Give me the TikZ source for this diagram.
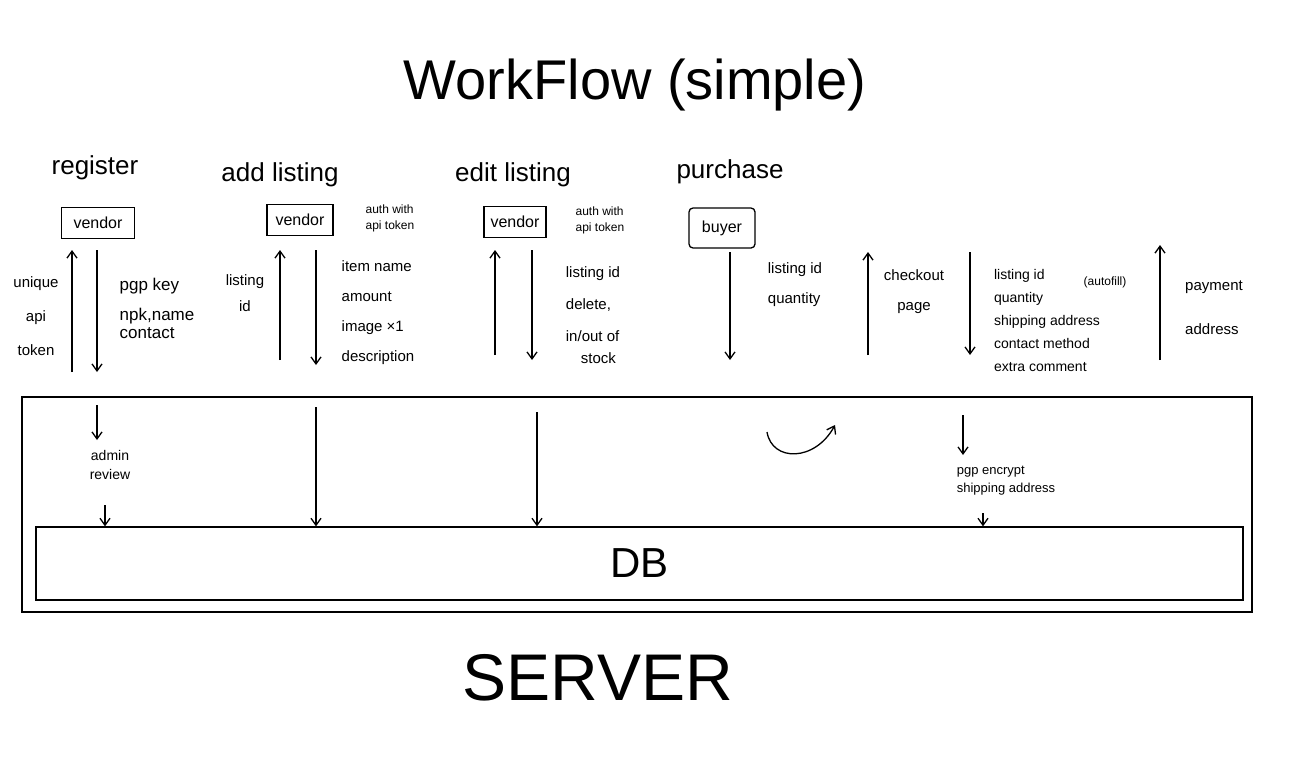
\documentclass[tikz,border=0pt]{standalone}
\usepackage{fontspec}
\setmainfont{Liberation Sans}
\usetikzlibrary{arrows.meta}
\begin{document}
\begin{tikzpicture}[x=1pt,y=-1pt,
  ln/.style={line width=1.3pt},
  ar/.style={ln,-{Straight Barb[length=7pt,width=10pt]}},
  box/.style={draw,line width=1.3pt,inner sep=3pt,minimum width=66pt,minimum height=31pt,font=\fontsize{16}{16}\selectfont},
  sec/.style={font=\fontsize{26}{26}\selectfont},
  lab/.style={font=\fontsize{15}{17}\selectfont,align=left},
  labc/.style={font=\fontsize{15}{17}\selectfont,align=center}]
\useasboundingbox (0,0) rectangle (1312,782);
\node[font=\fontsize{56}{56}\selectfont] (title) at (635,85) {WorkFlow (simple)};
\node[sec] (s1) at (95,168) {register};
\node[sec] (s2) at (280,175) {add listing};
\node[sec] (s3) at (513,175) {edit listing};
\node[sec] (s4) at (730,172) {purchase};
\node[box,minimum width=73pt] (v1) at (98,223) {vendor};
\node[box] (v2) at (300,220) {vendor};
\node[box,minimum width=62pt] (v3) at (515,222) {vendor};
\node[box,rounded corners=4pt,minimum height=40pt] (b) at (722,228) {buyer};
\node[lab,font=\fontsize{12}{16}\selectfont] (au1) at (390,218) {auth with\\api token};
\node[lab,font=\fontsize{12}{16}\selectfont] (au2) at (600,220) {auth with\\api token};
% register
\coordinate (r1a) at (72,372); \coordinate (r1b) at (72,250);
\coordinate (r2a) at (97,250); \coordinate (r2b) at (97,372);
\draw[ar] (r1a) -- (r1b); \draw[ar] (r2a) -- (r2b);
\node[labc,font=\fontsize{15}{34}\selectfont] (l1) at (36,316) {unique\\api\\token};
\node[lab,font=\fontsize{17}{30}\selectfont] (l2) at (157,308) {pgp key\\npk,name\\[-12pt]contact};
% add listing
\coordinate (a1a) at (280,360); \coordinate (a1b) at (280,250);
\coordinate (a2a) at (316,250); \coordinate (a2b) at (316,365);
\draw[ar] (a1a) -- (a1b); \draw[ar] (a2a) -- (a2b);
\node[labc,font=\fontsize{15}{26}\selectfont] (l3) at (245,293) {listing\\id};
\node[lab,font=\fontsize{15}{30}\selectfont] (l4) at (378,313) {item name\\amount\\image ×1\\description};
% edit listing
\coordinate (e1a) at (495,355); \coordinate (e1b) at (495,250);
\coordinate (e2a) at (532,250); \coordinate (e2b) at (532,360);
\draw[ar] (e1a) -- (e1b); \draw[ar] (e2a) -- (e2b);
\node[lab,font=\fontsize{15}{32}\selectfont] (l5) at (593,315) {listing id\\delete,\\in/out of\\[-10pt]\quad stock};
% purchase
\coordinate (p1a) at (730,252); \coordinate (p1b) at (730,360);
\draw[ar] (p1a) -- (p1b);
\node[lab,font=\fontsize{15}{30}\selectfont] (l6) at (795,285) {listing id\\quantity};
\coordinate (p2a) at (868,355); \coordinate (p2b) at (868,252);
\draw[ar] (p2a) -- (p2b);
\node[labc,font=\fontsize{15}{30}\selectfont] (l7) at (914,292) {checkout\\page};
\coordinate (p3a) at (970,252); \coordinate (p3b) at (970,355);
\draw[ar] (p3a) -- (p3b);
\node[lab,font=\fontsize{14}{23}\selectfont] (l8) at (1047,320) {listing id\\quantity\\shipping address\\contact method\\extra comment};
\node[lab,font=\fontsize{12}{12}\selectfont] (l9) at (1105,282) {(autofill)};
\coordinate (p4a) at (1160,360); \coordinate (p4b) at (1160,245);
\draw[ar] (p4a) -- (p4b);
\node[lab,font=\fontsize{15}{44}\selectfont] (l10) at (1214,308) {payment\\address};
% server
\node[draw,line width=1.3pt,minimum width=1230pt,minimum height=215pt,inner sep=0] (srv) at (637,504.5) {};
\node[draw,line width=1.3pt,minimum width=1207pt,minimum height=73pt,inner sep=0,font=\fontsize{42}{42}\selectfont] (db) at (639.5,563.5) {DB};
\node[font=\fontsize{66}{66}\selectfont] (server) at (598,678) {SERVER};
\coordinate (i1a) at (97,405); \coordinate (i1b) at (97,440);
\draw[ar] (i1a) -- (i1b);
\node[labc,font=\fontsize{14}{19}\selectfont] (adm) at (110,465) {admin\\review};
\coordinate (i2a) at (105,505); \draw[ar] (i2a) -- (i2a |- db.north);
\coordinate (i3a) at (316,407); \draw[ar] (i3a) -- (i3a |- db.north);
\coordinate (i4a) at (537,412); \draw[ar] (i4a) -- (i4a |- db.north);
\coordinate (c1) at (767,432);
\draw[ar] (c1) .. controls (772,462) and (815,462) .. (835,425);
\coordinate (i5a) at (963,415); \coordinate (i5b) at (963,455);
\draw[ar] (i5a) -- (i5b);
\node[lab,font=\fontsize{13}{18}\selectfont] (enc) at (1006,481) {pgp encrypt\\shipping address};
\coordinate (i6a) at (983,513); \draw[ar] (i6a) -- (i6a |- db.north);
\end{tikzpicture}
\end{document}
